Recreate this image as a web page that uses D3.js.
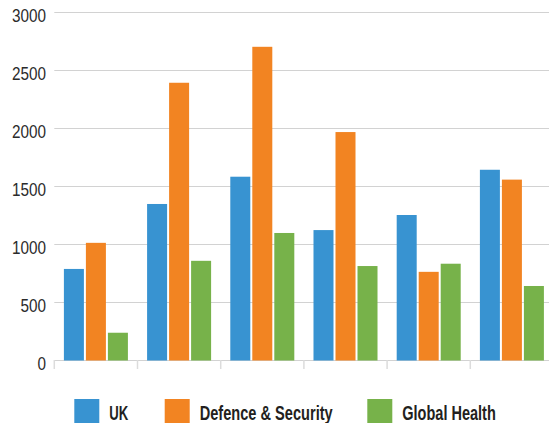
<!DOCTYPE html>
<html>
<head>
<meta charset="utf-8">
<script src="https://cdn.jsdelivr.net/npm/d3@7"></script>
<style>
  html, body { margin: 0; padding: 0; background: #fff; }
  svg { display: block; }
</style>
</head>
<body>
<svg id="chart" width="549" height="423"></svg>
<script>
const categories = ["Group 1", "Group 2", "Group 3", "Group 4", "Group 5", "Group 6"];
const seriesNames = ["UK", "Defence & Security", "Global Health"];
const seriesColors = ["#3893d1", "#f28422", "#77b24a"];
const ukValues = [785, 1345, 1580, 1120, 1250, 1640];
const defenceValues = [1010, 2390, 2700, 1965, 760, 1555];
const healthValues = [235, 855, 1095, 810, 830, 638];
const yTicks = [0, 500, 1000, 1500, 2000, 2500, 3000];

const seriesValues = [ukValues, defenceValues, healthValues];
const data = categories.map((c, i) => ({
  category: c,
  values: seriesNames.map((s, j) => ({ series: s, value: seriesValues[j][i], color: seriesColors[j] }))
}));

const svg = d3.select("#chart");
const plotLeft = 54.3, plotRight = 553.5, plotTop = 12, plotBottom = 360;

const x = d3.scaleBand().domain(categories).range([plotLeft, plotRight]).paddingInner(0).paddingOuter(0);
const xs = d3.scaleBand().domain(seriesNames).range([0, x.bandwidth()]).paddingInner(0.0909).paddingOuter(0.436);
const y = d3.scaleLinear().domain([0, 3000]).range([plotBottom, plotTop]);

// gridlines
svg.append("g").selectAll("line").data(yTicks).join("line")
  .attr("x1", plotLeft).attr("x2", 549)
  .attr("y1", d => y(d) + 0.5).attr("y2", d => y(d) + 0.5)
  .attr("stroke", "#d2d2d2").attr("stroke-width", 1.2);

// x tick marks at band boundaries
const boundaries = categories.map(c => x(c)).concat([x(categories[categories.length - 1]) + x.bandwidth()]);
svg.append("g").selectAll("line").data(boundaries).join("line")
  .attr("x1", d => d).attr("x2", d => d)
  .attr("y1", plotBottom).attr("y2", plotBottom + 9)
  .attr("stroke", "#dcdcdc").attr("stroke-width", 1.5);

// y labels (condensed look)
svg.append("g").selectAll("text").data(yTicks).join("text")
  .attr("x", 46).attr("y", d => y(d) + 10)
  .attr("text-anchor", "end")
  .attr("font-family", "'Liberation Sans', Arial, sans-serif")
  .attr("font-size", 17.5)
  .attr("fill", "#2b2b2b")
  .attr("textLength", d => String(d).length * 8.5)
  .attr("lengthAdjust", "spacingAndGlyphs")
  .text(d => d);

// bars
const groups = svg.append("g").selectAll("g").data(data).join("g")
  .attr("transform", d => `translate(${x(d.category)},0)`);
groups.selectAll("rect").data(d => d.values).join("rect")
  .attr("x", d => xs(d.series))
  .attr("width", xs.bandwidth())
  .attr("y", d => y(d.value))
  .attr("height", d => y(0) - y(d.value) + 0.5)
  .attr("fill", d => d.color);

// legend
const legendX = [74.3, 164.7, 367.3];
const legendTextWidth = [19, 133, 93.5];
const legend = svg.append("g").selectAll("g").data(seriesNames).join("g")
  .attr("transform", (d, i) => `translate(${legendX[i]},399)`);
legend.append("rect").attr("width", 25).attr("height", 25)
  .attr("fill", (d, i) => seriesColors[i]);
legend.append("text")
  .attr("x", 35).attr("y", 21)
  .attr("font-family", "'Liberation Sans', Arial, sans-serif")
  .attr("font-weight", "bold")
  .attr("font-size", 20)
  .attr("fill", "#231f20")
  .attr("textLength", (d, i) => legendTextWidth[i])
  .attr("lengthAdjust", "spacingAndGlyphs")
  .text(d => d);
</script>
</body>
</html>
